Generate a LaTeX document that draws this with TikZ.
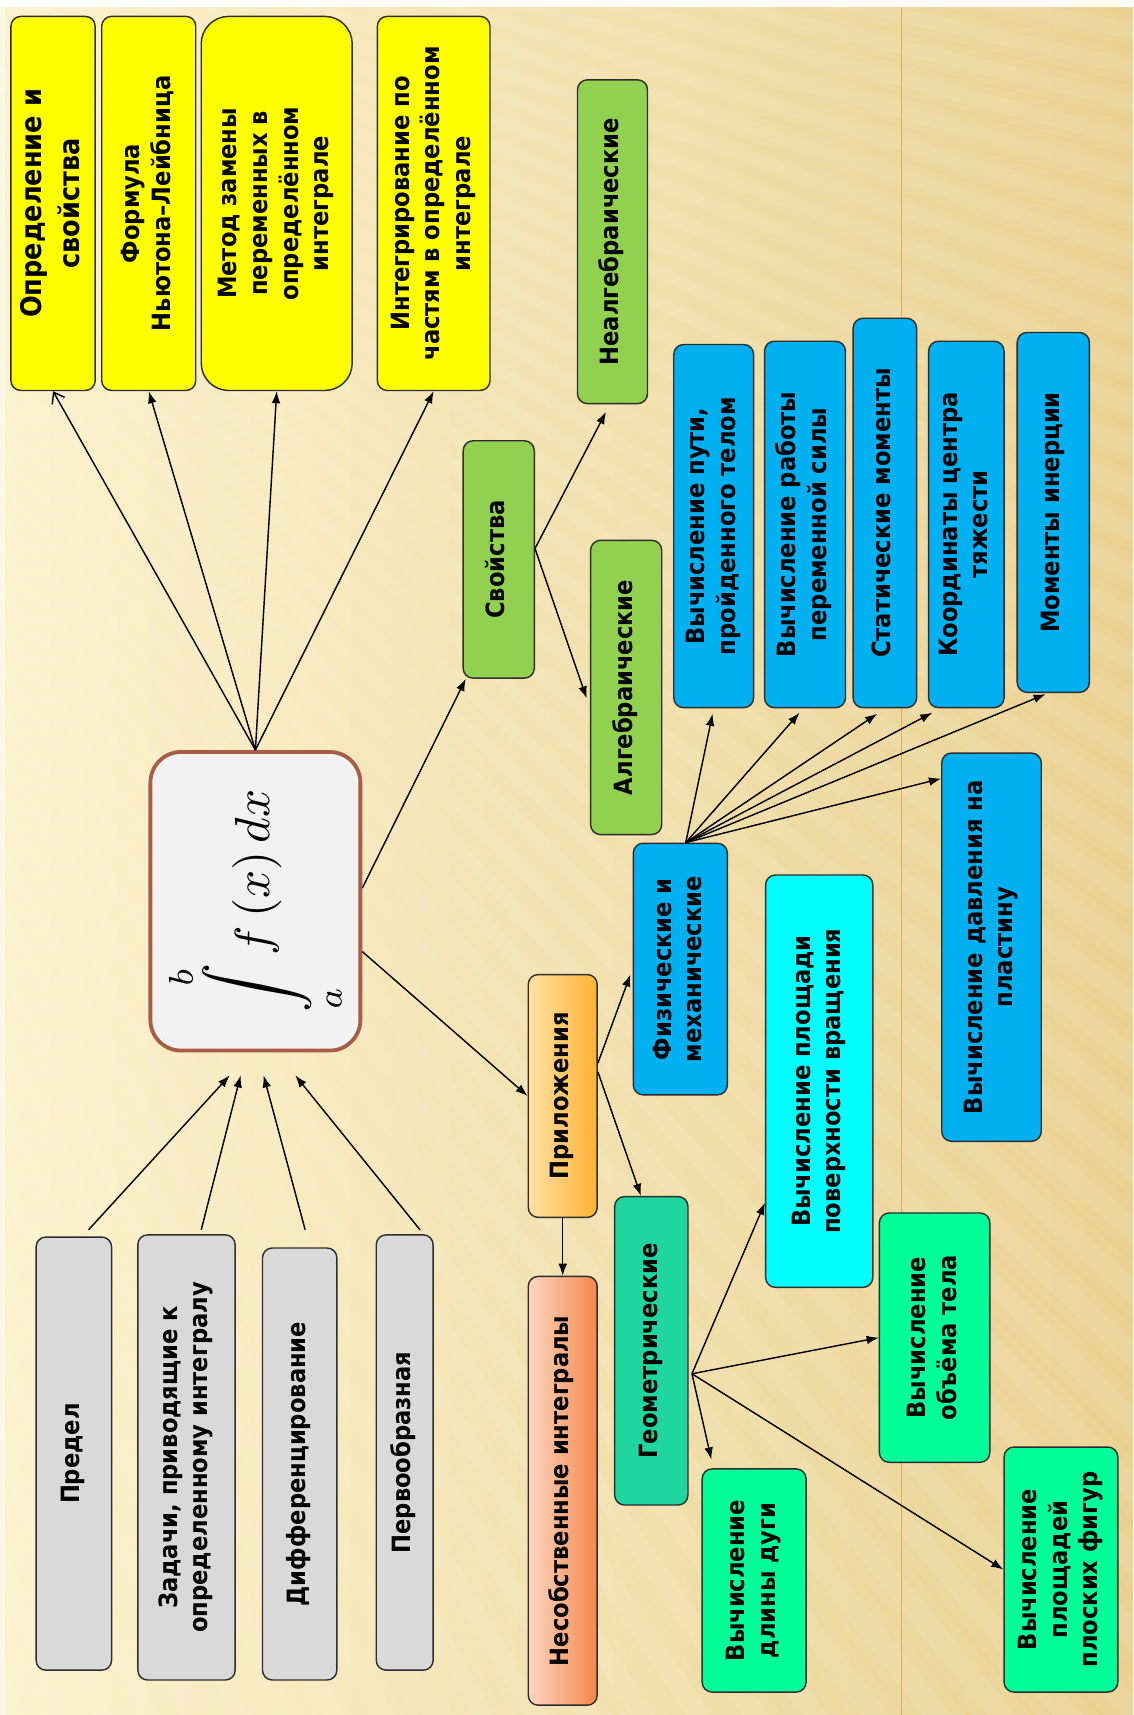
\documentclass[tikz,border=0pt]{standalone}
\usepackage[no-math]{fontspec}
\setmainfont{DejaVu Sans Condensed}
\usepackage{graphicx}
\usetikzlibrary{arrows.meta,calc}

\definecolor{bgleft}{RGB}{252,242,204}
\definecolor{bgright}{RGB}{233,208,142}
\definecolor{guide}{RGB}{232,160,60}
\definecolor{boxline}{RGB}{45,45,45}
\definecolor{yellowbox}{RGB}{255,255,0}
\definecolor{greenbox}{RGB}{146,208,80}
\definecolor{bluebox}{RGB}{0,176,240}
\definecolor{cyanbox}{RGB}{0,255,255}
\definecolor{springbox}{RGB}{0,255,153}
\definecolor{tealbox}{RGB}{32,214,160}
\definecolor{greybox}{RGB}{217,217,217}
\definecolor{intfill}{RGB}{242,242,242}
\definecolor{intline}{RGB}{166,94,70}

% text set sideways, read from bottom to top
\newcommand{\vlabel}[1]{\rotatebox{90}{\begin{tabular}{@{}c@{}}#1\end{tabular}}}

\begin{document}
\begin{tikzpicture}[x=1pt,y=-1pt,
  box/.style={draw=boxline, line width=1.3pt, rounded corners=9pt, inner sep=0pt,
              font=\bfseries\fontsize{23}{28}\selectfont},
  dims/.style 2 args={minimum width=#1pt, minimum height=#2pt},
  bigtext/.style={font=\bfseries\fontsize{26}{35}\selectfont},
  link/.style={black, line width=1.3pt, -{Latex[length=11pt,width=8pt]}},
]
\useasboundingbox (0,0) rectangle (1036,1568);

% background
\shade[left color=bgleft, right color=bgright] (0,0) rectangle (1036,1568);
\begin{scope}
  \clip (0,0) rectangle (1036,1568);
  \foreach \a in {10,11.1,...,74}{
    \fill[white, opacity=0.05] (-600,-300) -- +({\a-0.25}:4000) -- +({\a+0.75}:4000) -- cycle;
    \fill[white, opacity=0.08] (-600,-300) -- +(\a:4000) -- +({\a+0.5}:4000) -- cycle;
  }
\end{scope}
\fill[white] (0,0) rectangle (1036,6);
\fill[white, opacity=0.5] (0,6) rectangle (5,1568);
\draw[guide, line width=1.2pt, opacity=0.8] (824,6) -- (824,1568);

% central integral
\node[draw=intline, line width=3.5pt, fill=intfill, rounded corners=28pt, inner sep=0pt,
      dims={192}{273}] (int) at (233.5,824)
  {\rotatebox{90}{\scalebox{4.5}{$\displaystyle\int\limits_a^b f\,(x)\,dx$}}};

% theory
\node[box, fill=yellowbox, dims={77}{342}, bigtext] (y1) at (48.5,186) {\vlabel{Определение и\\свойства}};
\node[box, fill=yellowbox, dims={86}{342}] (y2) at (136,186) {\vlabel{Формула\\Ньютона–Лейбница}};
\node[box, fill=yellowbox, dims={138}{342}, rounded corners=25pt] (y3) at (253,186) {\vlabel{Метод замены\\переменных в\\определённом\\интеграле}};
\node[box, fill=yellowbox, dims={103}{342}] (y4) at (396.5,186) {\vlabel{Интегрирование по\\частям в определённом\\интеграле}};

% properties
\node[box, fill=greenbox, dims={65}{217}] (sv) at (456,511.5) {\vlabel{Свойства}};
\node[box, fill=greenbox, dims={64}{296}] (nalg) at (560,221) {\vlabel{Неалгебраические}};
\node[box, fill=greenbox, dims={65}{269}] (alg) at (572.5,628.5) {\vlabel{Алгебраические}};

% applications
\node[box, left color={rgb,255:red,255;green,224;blue,165}, right color={rgb,255:red,255;green,178;blue,50},
      dims={63}{222}] (pr) at (514.5,1002) {\vlabel{Приложения}};
\node[box, left color={rgb,255:red,252;green,214;blue,192}, right color={rgb,255:red,244;green,135;blue,75},
      dims={63}{392}] (ns) at (514.5,1363) {\vlabel{Несобственные интегралы}};

% physical and mechanical
\node[box, fill=bluebox, dims={86}{230}] (ph) at (622,886) {\vlabel{Физические и\\механические}};
\node[box, fill=bluebox, dims={73}{332}] (b1) at (652.5,481) {\vlabel{Вычисление пути,\\пройденного телом}};
\node[box, fill=bluebox, dims={74}{335}] (b2) at (736,479.5) {\vlabel{Вычисление работы\\переменной силы}};
\node[box, fill=bluebox, dims={58}{356}] (b3) at (809,469) {\vlabel{Статические моменты}};
\node[box, fill=bluebox, dims={69}{335}] (b4) at (883.5,479.5) {\vlabel{Координаты центра\\тяжести}};
\node[box, fill=bluebox, dims={66}{329}] (b5) at (963,468.5) {\vlabel{Моменты инерции}};
\node[box, fill=bluebox, dims={91}{355}] (b6) at (906.5,866) {\vlabel{Вычисление давления на\\пластину}};

% geometric
\node[box, fill=tealbox, dims={67}{282}] (geo) at (595.5,1235) {\vlabel{Геометрические}};
\node[box, fill=cyanbox, dims={98}{377}] (cy) at (749,988.5) {\vlabel{Вычисление площади\\поверхности вращения}};
\node[box, fill=springbox, dims={101}{228}] (vol) at (854.5,1223) {\vlabel{Вычисление\\объёма тела}};
\node[box, fill=springbox, dims={95}{204}] (arc) at (689.5,1445) {\vlabel{Вычисление\\длины дуги}};
\node[box, fill=springbox, dims={104}{224}] (pl) at (970,1435) {\vlabel{Вычисление\\площадей\\плоских фигур}};

% prerequisites
\node[box, fill=greybox, dims={69}{396}] (lim) at (67.5,1329) {\vlabel{Предел}};
\node[box, fill=greybox, dims={89}{407}] (task) at (170.5,1332.5) {\vlabel{Задачи, приводящие к\\определенному интегралу}};
\node[box, fill=greybox, dims={68}{395}] (diff) at (274,1338.5) {\vlabel{Дифференцирование}};
\node[box, fill=greybox, dims={52}{398}] (prim) at (370,1328) {\vlabel{Первообразная}};

% connectors: integral to theory
\draw[link, -{Straight Barb[length=9pt,width=13pt]}] (int.north) -- (y1.south);
\draw[link] (int.north) -- (y2.south);
\draw[link] (int.north) -- (y3.south);
\draw[link] (int.north) -- (y4.south);

% prerequisites to integral
\draw[link] ($(lim.north)+(13.5,-6)$) -- ($(int.south)+(-23.5,21)$);
\draw[link] ($(task.north)+(13.5,-4)$) -- ($(int.south)+(-13.5,21)$);
\draw[link] ($(diff.north)+(5,-16)$) -- ($(int.south)+(7.5,21)$);
\draw[link] ($(prim.north)+(14,-4)$) -- ($(int.south)+(36.5,21)$);

% integral to properties and applications
\draw[link] ($(int.east)+(0,-12)$) -- ($(sv.south west)+(3,0)$);
\draw[link] ($(int.east)+(0,46)$) -- (pr.west);
\draw[link] ($(sv.east)+(0,-10)$) -- ($(nalg.south)+(-6,7)$);
\draw[link] ($(sv.east)+(0,-10)$) -- ($(alg.west)+(-3,10)$);

% applications
\draw[link] ($(pr.east)+(0,-30)$) -- ($(ph.west)+(-2,5)$);
\draw[link] ($(pr.east)+(0,-22)$) -- ($(geo.north)+(-9.5,0)$);
\draw[link] (pr.south) -- (ns.north);

% physical and mechanical
\coordinate (phs) at ($(ph.north)+(5,0)$);
\draw[link] (phs) -- ($(b1.south)+(-1,5)$);
\draw[link] (phs) -- ($(b2.south)+(-5,4)$);
\draw[link] (phs) -- ($(b3.south)+(-7,5)$);
\draw[link] (phs) -- ($(b4.south west)+(4,4)$);
\draw[link] (phs) -- ($(b5.south)+(-7,1)$);
\draw[link] (phs) -- ($(b6.north west)+(0,24)$);

% geometric
\coordinate (gs) at ($(geo.east)+(3,21)$);
\draw[link] (gs) -- ($(cy.south west)+(0,-78)$);
\draw[link] (gs) -- (vol.west);
\draw[link] (gs) -- ($(arc.north west)+(9,-8)$);
\draw[link] (gs) -- (pl.west);
\end{tikzpicture}
\end{document}
